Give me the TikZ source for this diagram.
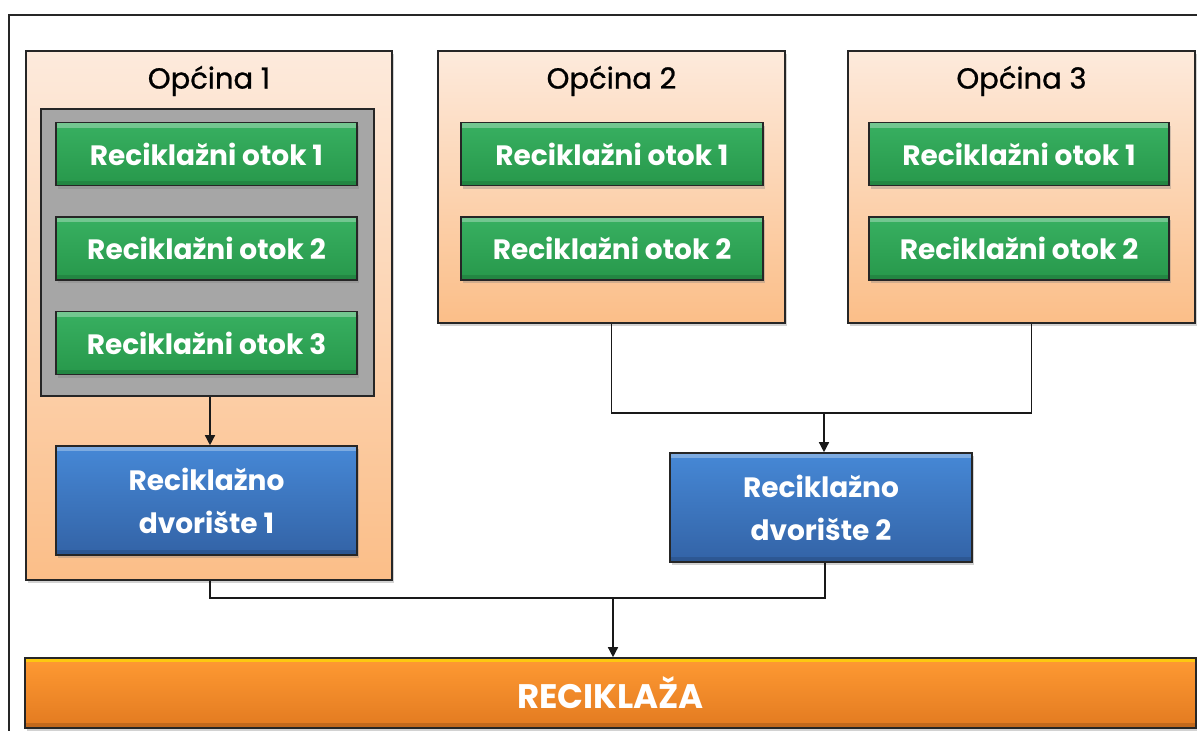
\documentclass[tikz,border=0pt]{standalone}
\usepackage{fontspec}
\setmainfont{Poppins}
\newfontfamily\titlefont[FakeBold=0.8]{Poppins}
\usetikzlibrary{shadows,arrows.meta}
\definecolor{peachT}{HTML}{FDEADC}
\definecolor{peachB}{HTML}{FBBE88}
\definecolor{grayF}{HTML}{A6A6A6}
\definecolor{greenT}{HTML}{38B061}
\definecolor{greenB}{HTML}{27984B}
\definecolor{blueT}{HTML}{4688D6}
\definecolor{blueB}{HTML}{3363A6}
\definecolor{orangeT}{HTML}{FF9A33}
\definecolor{orangeB}{HTML}{E27A20}
\definecolor{edgeC}{HTML}{262626}
\tikzset{
  base/.style={draw=edgeC, line width=1.6pt, inner sep=0pt, rectangle},
  shad/.style={drop shadow={opacity=0.35, shadow xshift=2pt, shadow yshift=-3pt}},
  bevel/.style={path picture={
      \fill[white,opacity=0.30] (path picture bounding box.north west) rectangle ([yshift=-5pt]path picture bounding box.north east);
      \fill[black,opacity=0.12] (path picture bounding box.south west) rectangle ([yshift=5pt]path picture bounding box.south east);}},
  mun/.style={base, shad, top color=peachT, bottom color=peachB},
  grp/.style={base, fill=grayF},
  isle/.style={base, shad, bevel, top color=greenT, bottom color=greenB, minimum width=301pt, minimum height=63pt,
     text=white, font=\fontsize{28}{32}\selectfont\bfseries},
  yard/.style={base, shad, bevel, top color=blueT, bottom color=blueB, minimum width=301pt, minimum height=109pt,
     text=white, align=center, font=\fontsize{28}{43}\selectfont\bfseries},
  ttl/.style={font=\titlefont\fontsize{29}{32}\selectfont, text=black},
  conn/.style={draw=black!90, line width=1.4pt},
  arr/.style={conn, -{Triangle[length=10pt,width=10pt]}},
}
\begin{document}
\begin{tikzpicture}[x=1pt,y=-1pt]
\useasboundingbox (0,0) rectangle (1197,731);
\fill[white] (0,0) rectangle (1197,731);
% outer frame
\draw[line width=1.4pt, edgeC] (9,731) -- (9,15) -- (1197,15);

% Opcina 1
\node[mun, minimum width=366pt, minimum height=529pt] (o1) at (209,315.5) {};
\node[ttl] (t1) at (209,81) {Općina 1};
\node[grp, minimum width=333pt, minimum height=287pt] (g1) at (207.5,252.5) {};
\node[isle] (i11) at (206.5,154) {Reciklažni otok 1};
\node[isle] (i12) at (206.5,248.5) {Reciklažni otok 2};
\node[isle] (i13) at (206.5,343) {Reciklažni otok 3};
\node[yard] (y1) at (206.5,500.5) {Reciklažno\\dvorište 1};

% Opcina 2
\node[mun, minimum width=347pt, minimum height=272pt] (o2) at (611.5,187) {};
\node[ttl] (t2) at (611.5,81) {Općina 2};
\node[isle, minimum width=302pt] (i21) at (612,154) {Reciklažni otok 1};
\node[isle, minimum width=302pt] (i22) at (612,248.5) {Reciklažni otok 2};

% Opcina 3
\node[mun, minimum width=347pt, minimum height=272pt] (o3) at (1021.5,187) {};
\node[ttl] (t3) at (1021.5,81) {Općina 3};
\node[isle, minimum width=300pt] (i31) at (1019,154) {Reciklažni otok 1};
\node[isle, minimum width=300pt] (i32) at (1019,248.5) {Reciklažni otok 2};

% Reciklazno dvoriste 2
\node[yard, minimum width=302pt] (y2) at (821,507.5) {Reciklažno\\dvorište 2};

% Reciklaza
\node[base, shad, top color=orangeT, bottom color=orangeB, minimum width=1171pt, minimum height=70pt,
  text=white, font=\fontsize{34}{36}\selectfont\bfseries,
  path picture={
    \fill[yellow!80!orange,opacity=0.7] (path picture bounding box.north west) rectangle ([yshift=-4pt]path picture bounding box.north east);
    \fill[black,opacity=0.15] (path picture bounding box.south west) rectangle ([yshift=5pt]path picture bounding box.south east);}]
  (rec) at (610.5,693) {RECIKLAŽA};

% connectors
\coordinate (j1) at (824,413);
\coordinate (j2) at (613,598);
\draw[arr] (g1.south -| 210,0) -- (y1.north -| 210,0);
\draw[conn] (o2.south) |- (j1) -| ([xshift=10pt]o3.south);
\draw[arr] (j1) -- (j1 |- y2.north);
\draw[conn] (o1.south -| 210,0) |- (j2) -| (y2.south -| 825,0);
\draw[arr] (j2) -- (j2 |- rec.north);
\end{tikzpicture}
\end{document}
